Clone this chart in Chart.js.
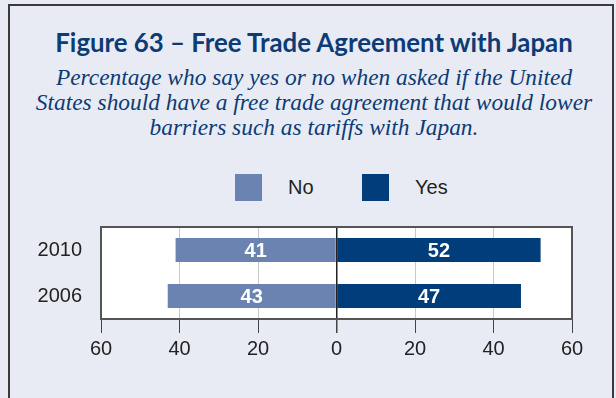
<!DOCTYPE html>
<html>
<head>
<meta charset="utf-8">
<script src="https://cdn.jsdelivr.net/npm/chart.js@4"></script>
<style>
html,body{margin:0;padding:0;background:#e8ebf3;}
#wrap{position:relative;width:616px;height:398px;overflow:hidden;background:#e8ebf3;}
#frame{position:absolute;left:8px;top:4px;width:606px;height:420px;border:2px solid #3a3a3a;box-sizing:border-box;}
#title{position:absolute;left:6px;width:616px;top:27px;text-align:center;font:bold 25.8px Lato,sans-serif;color:#0d3b76;}
#sub{position:absolute;left:6px;width:616px;top:65px;text-align:center;font:italic 23.4px/25px "Liberation Serif",serif;color:#0d3b76;}
#legend{position:absolute;top:174px;left:0;width:616px;height:27px;}
.sw{position:absolute;top:0;width:27px;height:27px;}
.lt{position:absolute;top:0;font:20px/27px "Liberation Sans",sans-serif;color:#222;}
canvas{position:absolute;left:0;top:0;}
</style>
</head>
<body>
<div id="wrap">
<div id="frame"></div>
<div id="title">Figure 63 – Free Trade Agreement with Japan</div>
<div id="sub">Percentage who say yes or no when asked if the United<br>States should have a free trade agreement that would lower<br>barriers such as tariffs with Japan.</div>
<div id="legend"></div>
<canvas id="chart" width="616" height="398"></canvas>
</div>
<script>
const years = ["2010", "2006"];
const noVals = [41, 43];
const yesVals = [52, 47];
const seriesNames = ["No", "Yes"];
const seriesColors = ["#6b83b0", "#003d7a"];
const xTicks = [-60, -40, -20, 0, 20, 40, 60];

const FONT = '"Liberation Sans",sans-serif';

// legend row
const legendPos = [[235, 288], [362, 415]];
document.getElementById("legend").innerHTML = seriesNames.map((n, i) =>
  `<div class="sw" style="left:${legendPos[i][0]}px;background:${seriesColors[i]}"></div>` +
  `<div class="lt" style="left:${legendPos[i][1]}px">${n}</div>`).join("");

// white plot background + frame around chart area
const plotBox = {
  id: "plotBox",
  beforeDraw(c) {
    const a = c.chartArea, ctx = c.ctx;
    ctx.save();
    ctx.fillStyle = "#fff";
    ctx.fillRect(a.left, a.top, a.right - a.left, a.bottom - a.top);
    ctx.restore();
  },
  afterDraw(c) {
    const a = c.chartArea, ctx = c.ctx;
    ctx.save();
    ctx.strokeStyle = "#555";
    ctx.lineWidth = 2;
    ctx.strokeRect(a.left, a.top, a.right - a.left, a.bottom - a.top);
    ctx.restore();
  }
};

// value labels inside bars
const barLabels = {
  id: "barLabels",
  afterDatasetsDraw(c) {
    const ctx = c.ctx;
    ctx.save();
    ctx.fillStyle = "#fff";
    ctx.font = "bold 20px " + FONT;
    ctx.textAlign = "center";
    ctx.textBaseline = "middle";
    c.data.datasets.forEach((ds, i) => {
      c.getDatasetMeta(i).data.forEach((bar, j) => {
        const x = (bar.x + bar.base) / 2;
        ctx.fillText(Math.abs(ds.data[j]), x, bar.y + 1);
      });
    });
    ctx.restore();
  }
};

new Chart(document.getElementById("chart"), {
  type: "bar",
  data: {
    labels: years,
    datasets: [
      { label: seriesNames[0], data: noVals.map(v => -v), backgroundColor: seriesColors[0] },
      { label: seriesNames[1], data: yesVals, backgroundColor: seriesColors[1] }
    ]
  },
  options: {
    indexAxis: "y",
    responsive: false,
    animation: false,
    layout: { padding: { top: 227, right: 44, bottom: 29, left: 0 } },
    datasets: { bar: { barPercentage: 1, categoryPercentage: 0.52 } },
    plugins: { legend: { display: false }, tooltip: { enabled: false } },
    scales: {
      x: {
        stacked: true,
        min: -60, max: 60,
        afterBuildTicks: s => { s.ticks = xTicks.map(v => ({ value: v })); },
        afterFit: s => { s.height = 50; },
        grid: {
          color: ctx => ctx.tick && ctx.tick.value === 0 ? "#222" : "#c8c8c8",
          lineWidth: ctx => ctx.tick && ctx.tick.value === 0 ? 1.5 : 1,
          tickColor: "#444",
          tickLength: 14
        },
        border: { display: false },
        ticks: {
          padding: 4,
          color: "#222",
          font: { family: FONT, size: 20 },
          callback: v => Math.abs(v)
        }
      },
      y: {
        stacked: true,
        afterFit: s => { s.width = 101; },
        grid: { display: false },
        border: { display: false },
        ticks: {
          padding: 11,
          color: "#222",
          font: { family: FONT, size: 20 }
        }
      }
    }
  },
  plugins: [plotBox, barLabels]
});
</script>
</body>
</html>
